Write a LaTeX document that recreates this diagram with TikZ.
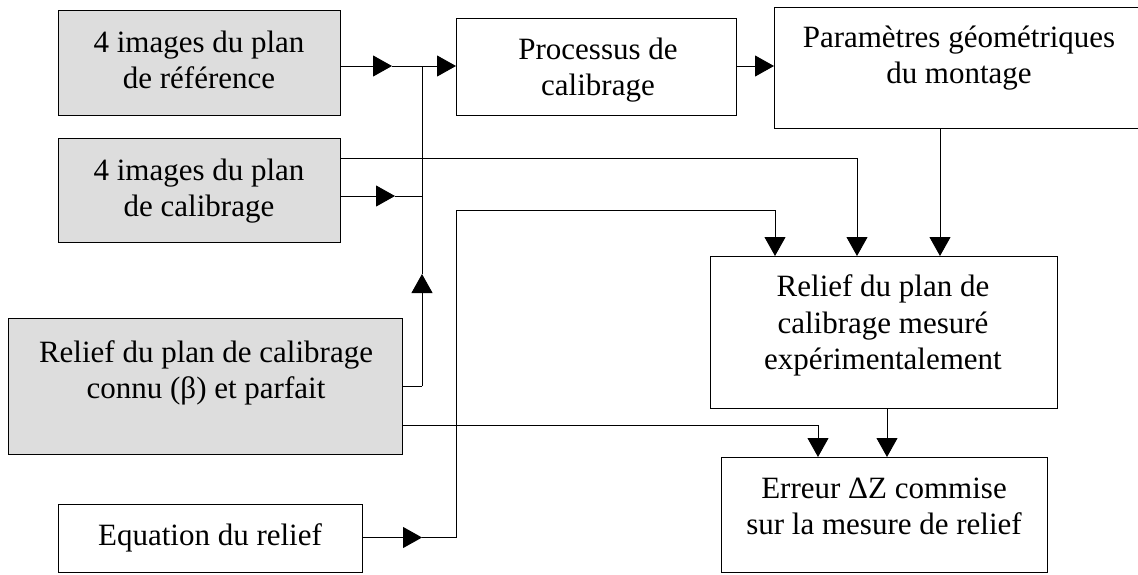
\documentclass[tikz,border=0pt]{standalone}
\usepackage{fontspec}
\setmainfont{Liberation Serif}
\usetikzlibrary{arrows.meta}
\definecolor{boxgray}{RGB}{221,221,221}
\newcommand\txtlines[1]{\begin{tabular}{@{}c@{}}#1\end{tabular}}
\begin{document}
\begin{tikzpicture}[x=1pt,y=-1pt,
  box/.style={draw, line width=1.2pt, inner sep=0pt, anchor=north west},
  gbox/.style={box, fill=boxgray},
  lbl/.style={inner sep=0pt, font=\fontsize{31}{36.5}\selectfont},
  conn/.style={line width=1pt},
  arr/.style={conn, -{Triangle[length=19pt,width=21pt]}}]
\useasboundingbox (0,0) rectangle (1138,574);

% boxes
\node[gbox, minimum width=282pt, minimum height=105pt] (A) at (58,10) {};
\node[gbox, minimum width=282pt, minimum height=104pt] (B) at (58,138) {};
\node[gbox, minimum width=394pt, minimum height=136pt] (C) at (8,318) {};
\node[box, minimum width=304pt, minimum height=68pt] (D) at (58,504) {};
\node[box, minimum width=280pt, minimum height=97pt] (E) at (456,18) {};
\node[box, minimum width=372pt, minimum height=121pt] (F) at (774,7) {};
\node[box, minimum width=347pt, minimum height=152pt] (G) at (710,256) {};
\node[box, minimum width=326pt, minimum height=115pt] (H) at (721,457) {};

% texts
\node[lbl] (At) at (199,63) {\txtlines{4 images du plan\\de référence}};
\node[lbl] (Bt) at (199,191) {\txtlines{4 images du plan\\de calibrage}};
\node[lbl] (Ct) at (206,373) {\txtlines{Relief du plan de calibrage\\connu (β) et parfait}};
\node[lbl] (Dt) at (210,538) {\txtlines{Equation du relief}};
\node[lbl] (Et) at (598,70) {\txtlines{Processus de\\calibrage}};
\node[lbl] (Ft) at (959,58) {\txtlines{Paramètres géométriques\\du montage}};
\node[lbl] (Gt) at (883,326) {\txtlines{Relief du plan de\\calibrage mesuré\\expérimentalement}};
\node[lbl] (Ht) at (884,509) {\txtlines{Erreur ΔZ commise\\sur la mesure de relief}};

% connector points
\coordinate (J1) at (422,66);
\coordinate (tA) at (392,66);
\coordinate (J2) at (422,386);
\coordinate (tV) at (422,274);
\coordinate (Bu) at (857,158);
\coordinate (J3) at (422,196);
\coordinate (tB) at (395,196);
\coordinate (Fx) at (940,0);
\coordinate (tD) at (422,537.5);
\coordinate (K1) at (456,537.5);
\coordinate (K2) at (456,210);
\coordinate (K3) at (775,210);
\coordinate (L1) at (818,425);
\coordinate (Gx) at (887,0);

% connectors
\draw[arr] (A.east|-J1) -- (tA);
\draw[conn] (tA) -- (J1);
\draw[arr] (J1) -- (E.west|-J1);
\draw[arr] (E.east|-J1) -- (F.west|-J1);

\draw[conn] (C.east|-J2) -- (J2);
\draw[arr] (J2) -- (tV);
\draw[conn] (tV) -- (J1);

\draw[arr] (B.east|-Bu) -- (Bu) -- (Bu|-G.north);
\draw[arr] (B.east|-J3) -- (tB);
\draw[conn] (tB) -- (J3);

\draw[arr] (Fx|-F.south) -- (Fx|-G.north);

\draw[arr] (D.east|-tD) -- (tD);
\draw[conn] (tD) -- (K1) -- (K2) -- (K3);
\draw[arr] (K3) -- (K3|-G.north);

\draw[arr] (C.east|-L1) -- (L1) -- (L1|-H.north);
\draw[arr] (Gx|-G.south) -- (Gx|-H.north);
\end{tikzpicture}
\end{document}
